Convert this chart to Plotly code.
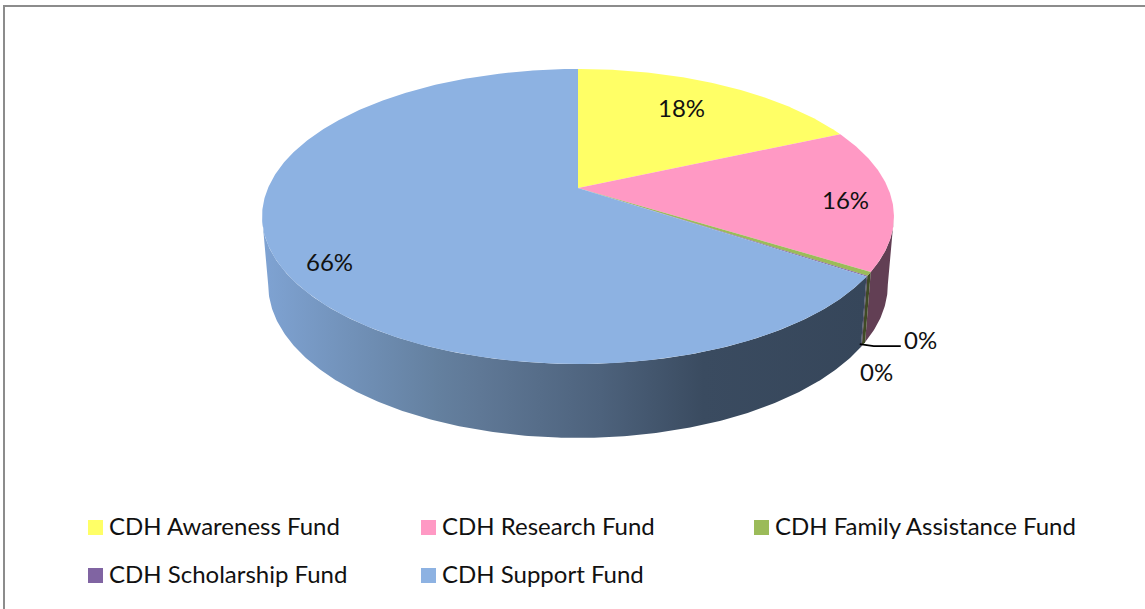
import numpy as np
import plotly.graph_objects as go

# Data
categories = ["CDH Awareness Fund", "CDH Research Fund", "CDH Family Assistance Fund",
              "CDH Scholarship Fund", "CDH Support Fund"]
values = [18.3, 15.6, 0.4, 0.1, 65.6]

# Styles
top_colors = ["#FFFF66", "#FF99C4", "#9BBB59", "#8064A2", "#8DB2E2"]
wall_colors = ["#66662A", "#623F54", "#3F4A25", "#3A2D4C", "#37475A"]
support_wall_scale = [[0, "#7FA3D3"], [0.29, "#64809F"], [0.36, "#5F7896"],
                      [0.56, "#4D627C"], [0.73, "#3A4B60"], [1, "#36465A"]]
FONT = "Lato"
TEXT = "#111111"

# Perspective geometry in page pixels
CX, TOP_CY, BOTTOM_CY = 578.0, 188.0, 255.0
TOP_A, TOP_B = 310.0, 142.0
BOTTOM_A, BOTTOM_B = 304.0, 147.6
K = 0.193
# The disc's outline is tangent to the wall at these angles
VISIBLE_FROM = np.degrees(np.arccos(-K))
VISIBLE_TO = 360 - VISIBLE_FROM


def project(theta_deg, a, b, cy):
    t = np.radians(theta_deg)
    w = 1 + K * np.cos(t)
    return CX + a * np.sin(t) / w, cy - b * np.cos(t) / w


cum = np.concatenate([[0], np.cumsum(values)]) / sum(values) * 360
fig = go.Figure()

# Side walls, only the part facing the viewer
for i in range(len(values)):
    start, end = max(cum[i], VISIBLE_FROM), min(cum[i + 1], VISIBLE_TO)
    if end <= start:
        continue
    th = np.linspace(start, end, max(int(end - start) * 2, 4))
    tx, ty = project(th, TOP_A, TOP_B, TOP_CY)
    bx, by = project(th, BOTTOM_A, BOTTOM_B, BOTTOM_CY)
    xs = np.concatenate([tx, bx[::-1]])
    ys = np.concatenate([ty, by[::-1]])
    kw = dict(fillcolor=wall_colors[i])
    if i == len(values) - 1:
        kw = dict(fillgradient=dict(type="horizontal", colorscale=support_wall_scale))
    fig.add_trace(go.Scatter(x=xs, y=ys, mode="lines", fill="toself", line=dict(width=0),
                             hoverinfo="skip", showlegend=False, **kw))

# Top faces
for i, name in enumerate(categories):
    th = np.linspace(cum[i], cum[i + 1], max(int(cum[i + 1] - cum[i]) * 2, 4))
    tx, ty = project(th, TOP_A, TOP_B, TOP_CY)
    fig.add_trace(go.Scatter(x=np.concatenate([[CX], tx, [CX]]), y=np.concatenate([[TOP_CY], ty, [TOP_CY]]),
                             mode="lines", fill="toself", fillcolor=top_colors[i], line=dict(width=0),
                             name=name, hoverinfo="name", showlegend=False))

# Leader line for the right-hand 0% label
lx, ly = project(cum[3], BOTTOM_A, BOTTOM_B, BOTTOM_CY)
fig.add_trace(go.Scatter(x=[lx - 2, lx + 12, lx + 39], y=[ly - 2, ly, ly], mode="lines",
                         line=dict(color="#000000", width=1.6), hoverinfo="skip", showlegend=False))

# Percent labels
label_xy = [(681, 107.5), (845, 199.5), (920, 339.5), (876, 371.5), (329, 261.5)]
for v, (x, y) in zip(values, label_xy):
    fig.add_annotation(x=x, y=y, text=f"{round(v)}%", showarrow=False,
                       font=dict(family=FONT, size=24, color=TEXT), xanchor="center", yanchor="middle")

# Legend
legend_xy = [(95.5, 527.5), (428.5, 527.5), (761.5, 527.5), (95.5, 575.5), (428.5, 575.5)]
for name, color, (x, y) in zip(categories, top_colors, legend_xy):
    fig.add_trace(go.Scatter(x=[x], y=[y], mode="markers", name=name, hoverinfo="name",
                             marker=dict(symbol="square", size=15, color=color, line=dict(width=0)),
                             showlegend=False))
    fig.add_annotation(x=x + 11.5, y=y - 2, text=name, showarrow=False, xanchor="left", yanchor="middle",
                       font=dict(family=FONT, size=24, color=TEXT))

frame = dict(color="#8C8C8C", width=2)
fig.update_layout(
    width=1145, height=609, margin=dict(l=0, r=0, t=0, b=0),
    paper_bgcolor="#FFFFFF", plot_bgcolor="#FFFFFF", showlegend=False,
    xaxis=dict(range=[0, 1145], visible=False, fixedrange=True),
    yaxis=dict(range=[609, 0], visible=False, fixedrange=True),
    shapes=[dict(type="line", x0=4, x1=4, y0=5, y1=609, line=frame),
            dict(type="line", x0=3, x1=1145, y0=6, y1=6, line=frame)],
)
fig.write_html("out.html", config=dict(displayModeBar=False),
               post_script="document.body.style.margin='0';document.documentElement.style.overflow='hidden';")
